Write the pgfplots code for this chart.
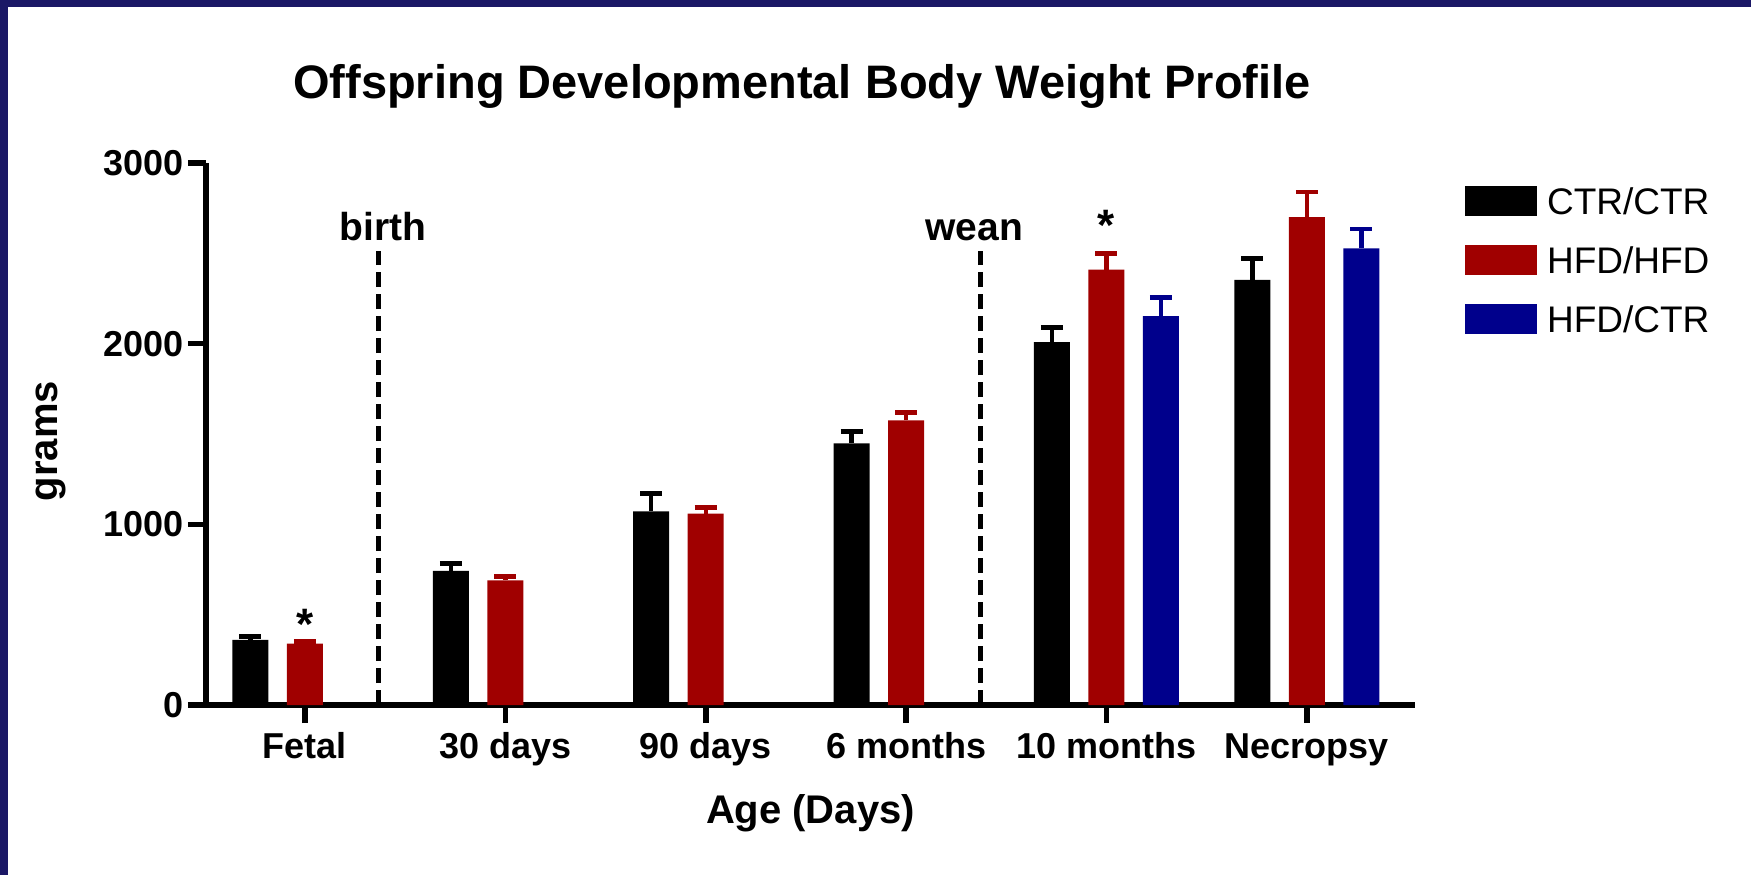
\documentclass[border=0pt]{standalone}
\usepackage{fontspec}
\setmainfont{Liberation Sans}
\usepackage{pgfplots}
\usepackage{pgfplotstable}
\pgfplotsset{compat=1.18}
\definecolor{navy}{HTML}{1B1866}
\definecolor{hred}{HTML}{A00000}
\definecolor{hblue}{HTML}{00008C}

\pgfplotstableread{
x y e
0 360 20
1 742 42
2 1072 100
3 1448 68
4 2008 82
5 2353 120
}\ctrctr
\pgfplotstableread{
x y e
0 340 12
1 690 20
2 1060 32
3 1575 45
4 2410 88
5 2700 140
}\hfdhfd
\pgfplotstableread{
x y e
4 2152 105
5 2527 108
}\hfdctr

\begin{document}
\begin{tikzpicture}
\useasboundingbox (0,0) rectangle (875.5pt,-437.5pt);
\fill[white] (0,0) rectangle (875.5pt,-437.5pt);
\fill[navy] (0,0) rectangle (875.5pt,-3.5pt);
\fill[navy] (0,0) rectangle (4pt,-437.5pt);
\node[anchor=base, font=\fontsize{23.5}{28}\selectfont\bfseries] at (401pt,-49pt) {Offspring Developmental Body Weight Profile};
\begin{axis}[
  at={(103pt,-352.5pt)}, anchor=south west,
  scale only axis, width=604.5pt, height=271pt,
  xmin=-0.494, xmax=5.54, ymin=0, ymax=3000,
  ybar, bar width=18pt,
  axis lines*=left,
  axis line style={line width=3.2pt, black},
  tick style={line width=2.8pt, black},
  major tick length=9pt,
  tick align=outside,
  xtick={0,1,2,3,4,5},
  xticklabels={Fetal,30 days,90 days,6 months,10 months,Necropsy},
  ytick={0,1000,2000,3000},
  /pgf/number format/1000 sep={},
  /pgf/number format/assume math mode=true,
  ticklabel style={font=\fontsize{18}{21}\selectfont\bfseries},
  xticklabel style={anchor=base, inner sep=0pt, yshift=-17.5pt},
  yticklabel style={anchor=east, inner sep=0pt, xshift=-2pt},
  xlabel={Age (Days)},
  xlabel style={at={(axis description cs:0.5,-0.2177)}, anchor=base, font=\fontsize{20}{24}\selectfont\bfseries},
  ylabel={grams},
  ylabel style={at={(axis description cs:-0.128,0.487)}, anchor=center, font=\fontsize{20}{24}\selectfont\bfseries},
  clip=false,
  legend cell align=left,
  legend style={at={(axis description cs:1.0414,0.958)}, anchor=north west, draw=none, fill=none,
    inner sep=0pt, outer sep=0pt, row sep=14.5pt, column sep=5pt,
    font=\fontsize{18.5}{22}\selectfont,
    nodes={inner sep=0pt, text height=13pt, text depth=0pt}},
  legend image code/.code={\fill[#1] (0pt,-7pt) rectangle (36pt,8pt);},
]
\addplot[bar shift=-27.25pt, fill=black, draw=none,
  error bars/.cd, y dir=plus, y explicit,
  error bar style={line width=2.2pt, black},
  error mark options={line width=2.4pt, mark size=5.5pt, black, rotate=90}]
  table[x=x, y=y, y error=e] {\ctrctr};
\addlegendentry{CTR/CTR}
\addplot[bar shift=0pt, fill=hred, draw=none,
  error bars/.cd, y dir=plus, y explicit,
  error bar style={line width=2.2pt, hred},
  error mark options={line width=2.4pt, mark size=5.5pt, hred, rotate=90}]
  table[x=x, y=y, y error=e] {\hfdhfd};
\addlegendentry{HFD/HFD}
\addplot[bar shift=27.25pt, fill=hblue, draw=none,
  error bars/.cd, y dir=plus, y explicit,
  error bar style={line width=2.2pt, hblue},
  error mark options={line width=2.4pt, mark size=5.5pt, hblue, rotate=90}]
  table[x=x, y=y, y error=e] {\hfdctr};
\addlegendentry{HFD/CTR}
\addplot[sharp plot, bar shift=0pt, forget plot, black, line width=2.4pt, dash pattern=on 7.5pt off 3.5pt] coordinates {(0.365,0) (0.365,2514)};
\addplot[sharp plot, bar shift=0pt, forget plot, black, line width=2.4pt, dash pattern=on 7.5pt off 3.5pt] coordinates {(3.37,0) (3.37,2514)};
\node[anchor=base, font=\fontsize{19.5}{23}\selectfont\bfseries] at (axis cs:0.39,2570) {birth};
\node[anchor=base, font=\fontsize{19.5}{23}\selectfont\bfseries] at (axis cs:3.34,2570) {wean};
\node[anchor=base, font=\fontsize{22}{26}\selectfont\bfseries] at (axis cs:0,365) {*};
\node[anchor=base, font=\fontsize{22}{26}\selectfont\bfseries] at (axis cs:4,2570) {*};
\end{axis}
\end{tikzpicture}
\end{document}
